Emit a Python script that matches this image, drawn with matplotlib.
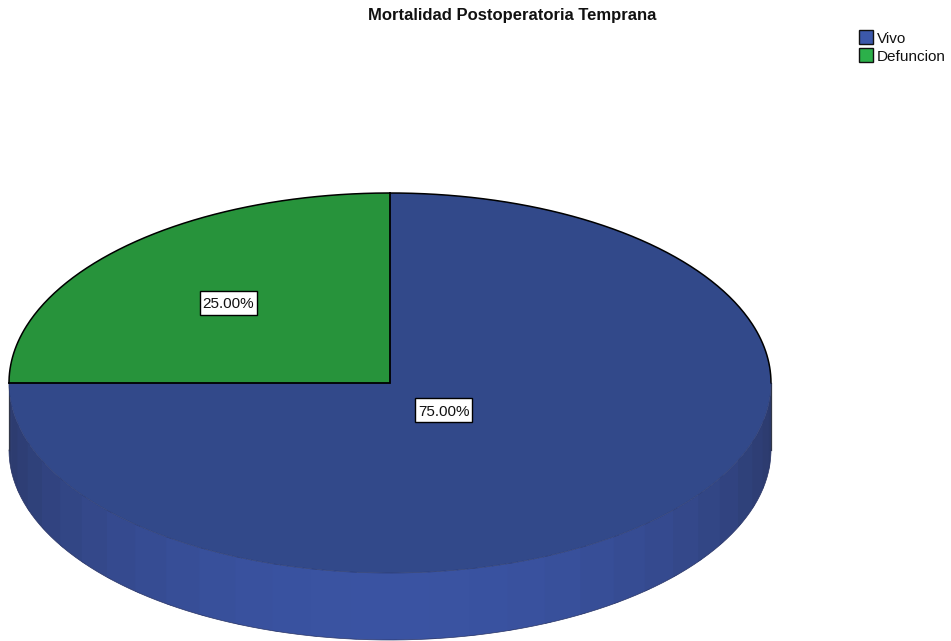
import numpy as np
import matplotlib
matplotlib.use('Agg')
import matplotlib.pyplot as plt
from matplotlib.patches import Polygon, Rectangle

plt.rcParams['font.family'] = ['Liberation Sans', 'DejaVu Sans']

TITLE = 'Mortalidad Postoperatoria Temprana'
categories = ['Vivo', 'Defuncion']
shares = [75.0, 25.0]
label_radius = [0.2, 0.6]
top_colors = ['#32498a', '#27933b']
legend_colors = ['#3c58ab', '#2cb04a']

CX, CY = 390, 383
RX, RY = 381, 190
DEPTH = 67
BAND_STEP = 6
BOX_W, BOX_H = 57, 24


def rim(deg, drop=0):
    t = np.radians(deg)
    return np.column_stack([CX + RX * np.cos(t), CY - RY * np.sin(t) + drop])


fig = plt.figure(figsize=(9.51, 6.41), dpi=100)
ax = fig.add_axes([0, 0, 1, 1])
ax.set_xlim(0, 951)
ax.set_ylim(641, 0)
ax.axis('off')

# side wall, split into flat shaded bands that get lighter toward the front
dark = np.array([43, 57, 106]) / 255
light = np.array([58, 83, 162]) / 255
for a in np.arange(180, 360, BAND_STEP):
    # each band runs a little under the next one so no seam shows
    end = min(a + BAND_STEP + 1, 360)
    arc = np.linspace(a, end, 8)
    pts = np.vstack([rim(arc), rim(arc[::-1], DEPTH)])
    k = np.sin(np.radians(a + BAND_STEP / 2 - 180)) ** 1.2
    c = dark + (light - dark) * k
    ax.add_patch(Polygon(pts, closed=True, fc=c, ec='none', zorder=1))

# outer edges of the wall
for x in (CX - RX, CX + RX):
    ax.plot([x, x], [CY, CY + DEPTH], color='#333848', lw=0.9, zorder=2)
low = np.linspace(180, 360, 200)
ax.plot(*rim(low, DEPTH).T, color='#2a3566', lw=0.5, zorder=2)

# top face, slices run clockwise from twelve o'clock
start = 90
for name, share, lr, col in zip(categories, shares, label_radius, top_colors):
    sweep = share / sum(shares) * 360
    arc = np.linspace(start, start - sweep, 300)
    pts = np.vstack([[CX, CY], rim(arc)])
    ax.add_patch(Polygon(pts, closed=True, fc=col, ec='none', zorder=3))
    mid = np.radians(start - sweep / 2)
    lx = CX + lr * RX * np.cos(mid)
    ly = CY - lr * RY * np.sin(mid) + 0.5
    ax.add_patch(Rectangle((lx - BOX_W / 2, ly - BOX_H / 2), BOX_W, BOX_H,
                           fc='white', ec='black', lw=1.0, zorder=5))
    ax.text(lx, ly + 1.2, f'{share:.2f}%', fontsize=11, color='#111111',
            ha='center', va='center', zorder=6)
    start -= sweep

# outlines: black on the back half and around the small slice, thin blue on the front
ax.plot(*rim(np.linspace(0, 180, 300)).T, color='black', lw=1.1, zorder=4)
ax.plot(*rim(np.linspace(180, 360, 300)).T, color='#2b3b72', lw=0.5, zorder=4)
ax.plot([CX, CX, CX - RX], [CY - RY, CY, CY], color='black', lw=1.3, zorder=4,
        solid_joinstyle='miter')

ax.text(512.5, 15.5, TITLE, fontsize=12, fontweight='bold', color='#111111',
        ha='center', va='center')

# legend
for i, (name, col) in enumerate(zip(categories, legend_colors)):
    y = 30 + i * 18
    ax.add_patch(Rectangle((859, y), 14, 14, fc=col, ec='#111111', lw=1.0, zorder=5))
    ax.text(877, y + 9, name, fontsize=11, color='#111111', ha='left', va='center')

fig.savefig('out.png', dpi=100)
